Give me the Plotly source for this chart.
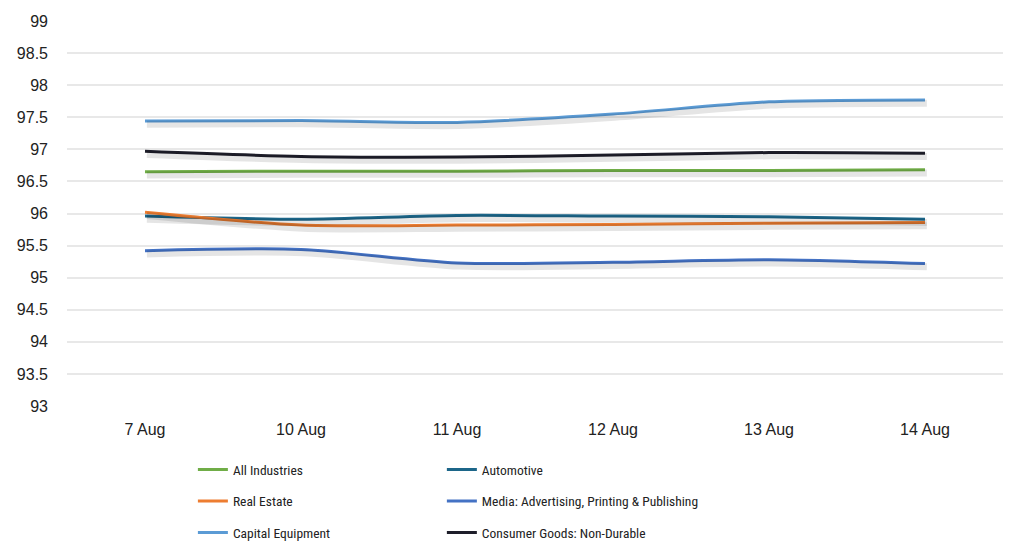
import plotly.graph_objects as go

dates = ["7 Aug", "10 Aug", "11 Aug", "12 Aug", "13 Aug", "14 Aug"]

all_industries = [96.65, 96.66, 96.66, 96.67, 96.67, 96.68]
automotive = [95.96, 95.91, 95.97, 95.96, 95.95, 95.91]
real_estate = [96.02, 95.82, 95.82, 95.83, 95.85, 95.86]
media = [95.42, 95.44, 95.23, 95.24, 95.28, 95.22]
capital_equipment = [97.44, 97.45, 97.42, 97.55, 97.74, 97.77]
consumer_goods = [96.97, 96.89, 96.88, 96.91, 96.95, 96.94]

y_ticks = [93, 93.5, 94, 94.5, 95, 95.5, 96, 96.5, 97, 97.5, 98, 98.5, 99]
y_tick_labels = ["93", "93.5", "94", "94.5", "95", "95.5", "96", "96.5", "97", "97.5", "98", "98.5", "99"]

series = [
    ("All Industries", all_industries, "#70AD47", "legend"),
    ("Automotive", automotive, "#1C6689", "legend2"),
    ("Real Estate", real_estate, "#ED7D31", "legend"),
    ("Media: Advertising, Printing & Publishing", media, "#4472C4", "legend2"),
    ("Capital Equipment", capital_equipment, "#5B9BD5", "legend"),
    ("Consumer Goods: Non-Durable", consumer_goods, "#1E1E2A", "legend2"),
]

fig = go.Figure()
# soft drop shadows drawn on an overlaid, slightly offset axis
for name, vals, color, leg in series:
    fig.add_trace(go.Scatter(
        x=dates, y=vals, mode="lines", showlegend=False, hoverinfo="skip",
        line=dict(color="rgba(0,0,0,0.10)", width=7, shape="spline", smoothing=0.8),
        xaxis="x2", yaxis="y2",
    ))
for name, vals, color, leg in series:
    fig.add_trace(go.Scatter(
        x=dates, y=vals, name=name, mode="lines",
        line=dict(color=color, width=3, shape="spline", smoothing=0.8),
        legend=leg, legendgroup=name,
    ))

legend_common = dict(
    orientation="v", yanchor="top", xanchor="left",
    font=dict(family="Roboto Condensed, Liberation Sans Narrow, Arial Narrow, Liberation Sans, sans-serif", size=13.5, color="#222222"),
    tracegroupgap=11, bgcolor="rgba(0,0,0,0)", itemwidth=30,
)

fig.update_layout(
    width=1024, height=557,
    margin=dict(l=59, r=29, t=13, b=159, autoexpand=False),
    paper_bgcolor="white", plot_bgcolor="white",
    font=dict(family="Liberation Sans, Arial, sans-serif", size=16, color="#222222"),
    showlegend=True,
    legend=dict(x=0.1345, y=-0.125, **legend_common),
    legend2=dict(x=0.4005, y=-0.125, **legend_common),
    xaxis=dict(
        type="category", showgrid=False, showline=False, zeroline=False,
        ticks="", tickfont=dict(size=16, color="#222222"),
        range=[-0.5, len(dates) - 0.5], ticklabelstandoff=12,
    ),
    yaxis=dict(
        range=[93, 99], tickvals=y_ticks, ticktext=y_tick_labels,
        showgrid=True, gridcolor="#E8E8E8", gridwidth=2,
        zeroline=False, showline=False, ticks="",
        tickfont=dict(size=16, color="#222222"), ticklabelstandoff=18,
    ),
    xaxis2=dict(
        type="category", overlaying="x", visible=False,
        range=[-0.5 - 0.012, len(dates) - 0.5 - 0.012],
    ),
    yaxis2=dict(
        overlaying="y", visible=False, range=[93 + 0.05, 99 + 0.05],
    ),
)

fig.write_html("out.html")
